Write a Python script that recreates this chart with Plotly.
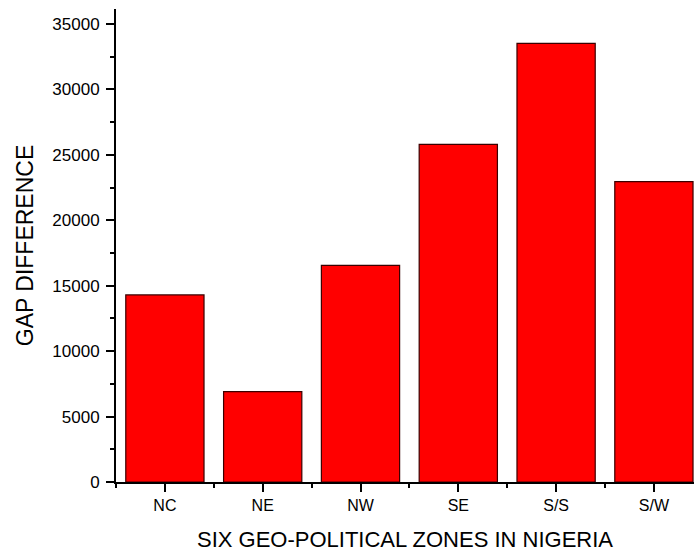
import plotly.graph_objects as go

zones = ["NC", "NE", "NW", "SE", "S/S", "S/W"]
gap = [14300, 6900, 16550, 25800, 33520, 22950]
y_ticks = [0, 5000, 10000, 15000, 20000, 25000, 30000, 35000]

pos = list(range(len(zones)))

fig = go.Figure(go.Bar(
    x=pos, y=gap, width=0.8,
    marker=dict(color="#ff0000", line=dict(color="#3a0000", width=1.2)),
))

font_family = "Liberation Sans, Arial, sans-serif"
fig.update_layout(
    width=694, height=552,
    margin=dict(l=116, r=0, t=9, b=70, autoexpand=False),
    paper_bgcolor="white", plot_bgcolor="white",
    showlegend=False,
    font=dict(family=font_family, color="black", size=16),
    bargap=0.2,
)
fig.update_xaxes(
    range=[-0.5, 5.41],
    tickmode="array", tickvals=pos, ticktext=zones,
    ticks="outside", ticklen=8, tickwidth=1.5, tickcolor="black",
    showline=True, linecolor="black", linewidth=2,
    showgrid=False, zeroline=False,
    tickfont=dict(size=16),
    minor=dict(tickmode="array", tickvals=[p - 0.5 for p in pos] + [5.5],
               ticks="outside", ticklen=4, tickwidth=1.5, tickcolor="black", showgrid=False),
    title=dict(text="SIX GEO-POLITICAL ZONES IN NIGERIA", font=dict(size=22), standoff=18),
)
fig.update_yaxes(
    range=[0, 36150],
    tickmode="array", tickvals=y_ticks, ticktext=[str(v) for v in y_ticks],
    ticks="outside", ticklen=8, tickwidth=1.5, tickcolor="black",
    showline=True, linecolor="black", linewidth=2,
    showgrid=False, zeroline=False,
    tickfont=dict(size=17),
    ticklabelstandoff=3,
    minor=dict(dtick=2500, tick0=0, ticks="outside", ticklen=4, tickwidth=1.5,
               tickcolor="black", showgrid=False),
    title=dict(text="GAP DIFFERENCE", font=dict(size=23), standoff=12),
)

fig.write_html("out.html", config={"displayModeBar": False},
               post_script="document.body.style.margin='0';")
